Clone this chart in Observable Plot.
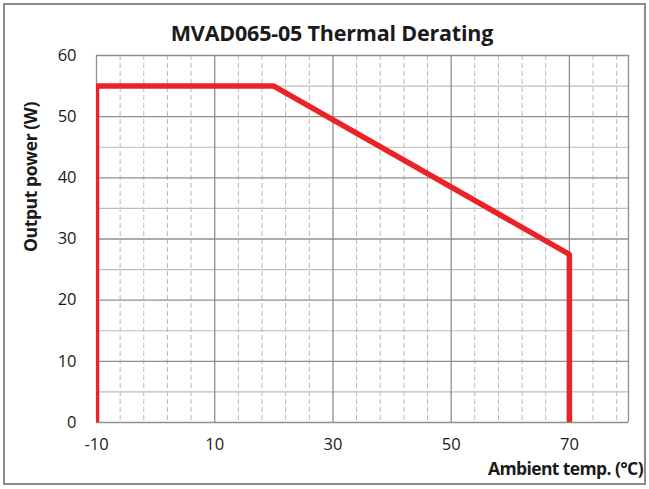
<!DOCTYPE html>
<html><head><meta charset="utf-8">
<script src="https://cdn.jsdelivr.net/npm/d3@7"></script>
<script src="https://cdn.jsdelivr.net/npm/@observablehq/plot@0.6"></script>
<style>
body{margin:0;background:#fff;font-family:"Open Sans",sans-serif;}
#wrap{position:relative;width:649px;height:489px;overflow:hidden;}
#border{position:absolute;left:3px;top:3px;width:639px;height:478px;border:2px solid #8c8c8c;}
.lbl{position:absolute;font-weight:bold;color:#1a1a1a;white-space:nowrap;}
#title{left:0;width:664px;text-align:center;top:18px;font-size:21.5px;letter-spacing:-0.2px;}
#xlab{right:6px;top:456px;font-size:17.5px;letter-spacing:-0.6px;}
#ylab{left:30px;top:177px;font-size:17.5px;transform:translate(-50%,-50%) rotate(-90deg);letter-spacing:-0.4px;}
#chart{position:absolute;left:0;top:0;}
</style></head>
<body><div id="wrap"><div id="border"></div><div id="chart"></div>
<div class="lbl" id="title">MVAD065-05 Thermal Derating</div>
<div class="lbl" id="ylab">Output power (W)</div>
<div class="lbl" id="xlab">Ambient temp. (°C)</div>
</div>
<script>
const temps = [-10, -10, 20, 70, 70];
const power = [0, 55, 55, 27.5, 0];
const xTicks = [-10, 10, 30, 50, 70];
const yTicks = [0, 10, 20, 30, 40, 50, 60];
const xMinorGrid = [-6, -2, 2, 6, 14, 18, 22, 26, 34, 38, 42, 46, 54, 58, 62, 66, 74, 78];
const xMajorGrid = [-10, 10, 30, 50, 70, 80];
const yMinorGrid = [5, 15, 25, 35, 45, 55];

const pts = temps.map((t, i) => ({t, p: power[i]}));

const chart = Plot.plot({
  width: 649, height: 489,
  marginLeft: 96, marginRight: 21, marginTop: 55, marginBottom: 67,
  style: {fontFamily: "'Open Sans', sans-serif", fontSize: "16.5px", color: "#1a1a1a", background: "transparent"},
  x: {domain: [-10, 80], ticks: xTicks, tickSize: 0, tickPadding: 16, label: null, tickFormat: d => String(d)},
  y: {domain: [0, 60], ticks: yTicks, tickSize: 0, tickPadding: 20, label: null},
  marks: [
    Plot.ruleX(xMinorGrid, {stroke: "#b8b8b8", strokeWidth: 1, strokeDasharray: "5,3"}),
    Plot.ruleY(yMinorGrid, {stroke: "#bdbdbd", strokeWidth: 1.2}),
    Plot.ruleY(yTicks, {stroke: "#8f8f8f", strokeWidth: 1.3}),
    Plot.ruleX(xMajorGrid, {stroke: "#8f8f8f", strokeWidth: 1.3}),
    Plot.line(pts, {x: "t", y: "p", stroke: "#ec2227", strokeWidth: 5.5, strokeLinejoin: "miter", strokeLinecap: "butt", clip: true})
  ]
});
document.getElementById("chart").appendChild(chart);
</script>
</body></html>
